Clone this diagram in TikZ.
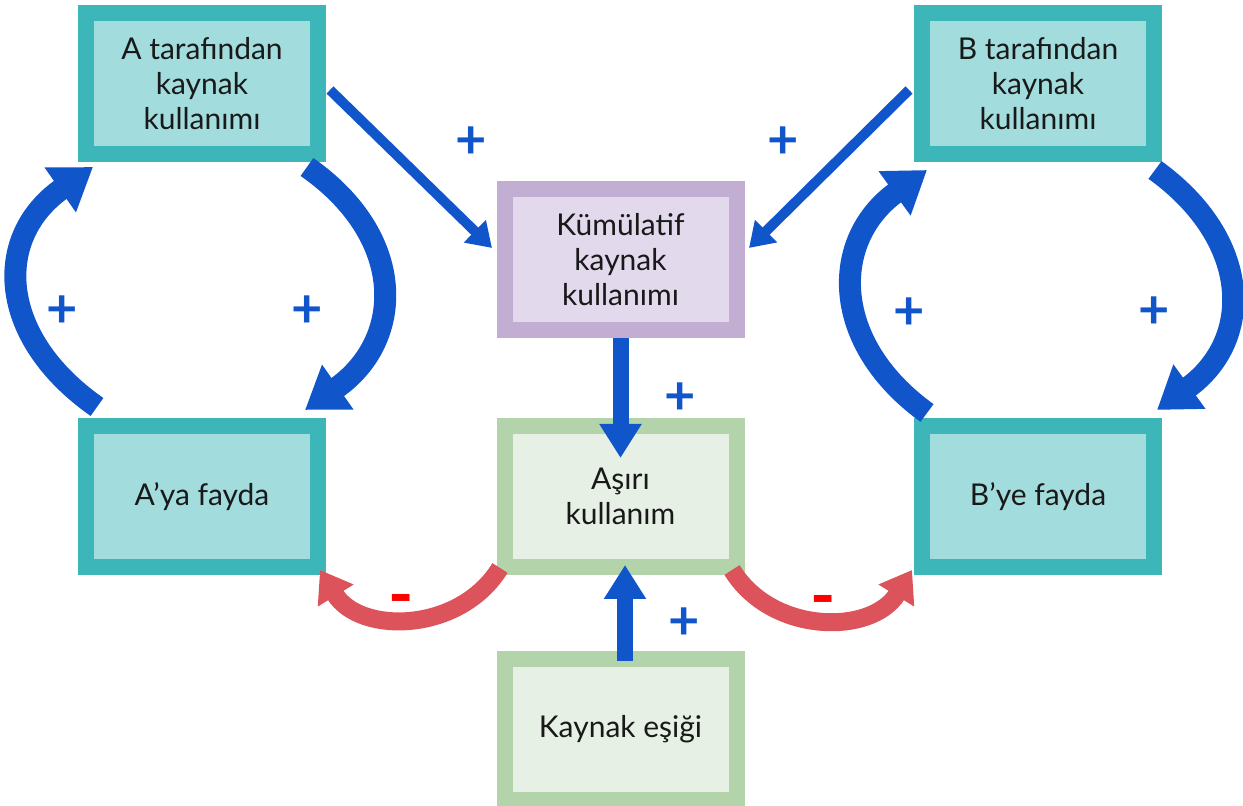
\documentclass[tikz,border=0pt]{standalone}
\usepackage{fontspec}
\setmainfont{Lato}
\usetikzlibrary{arrows.meta}

\definecolor{tealedge}{HTML}{3DB6B9}
\definecolor{tealfill}{HTML}{A3DCDD}
\definecolor{lilacedge}{HTML}{C3AED3}
\definecolor{lilacfill}{HTML}{E3D9EC}
\definecolor{sageedge}{HTML}{B3D3AB}
\definecolor{sagefill}{HTML}{E6F0E4}
\definecolor{arrowblue}{HTML}{1155CB}
\definecolor{arrowred}{HTML}{DC535B}
\definecolor{minusred}{HTML}{FF0000}

\begin{document}
\begin{tikzpicture}[x=0.5pt,y=0.5pt,>=latex]

	% Define node styles
	\tikzstyle{box node} = [rectangle, line width=8pt, minimum width=116pt, minimum height=70.5pt, align=center, text=black!90, font=\fontsize{15}{17.5}\selectfont]
	\tikzstyle{party node} = [box node, draw=tealedge, fill=tealfill]
	\tikzstyle{shared node} = [box node, draw=lilacedge, fill=lilacfill]
	\tikzstyle{stock node} = [box node, draw=sageedge, fill=sagefill]
	\tikzstyle{plus sign} = [text=arrowblue, font=\fontsize{27}{27}\selectfont\bfseries]
	\tikzstyle{minus sign} = [text=minusred, font=\fontsize{34}{34}\selectfont\bfseries]

	% Define arrow styles
	\tikzstyle{thin arrow} = [draw=arrowblue, line width=5pt, -{Triangle[length=12pt,width=15pt]}]
	\tikzstyle{feed arrow} = [draw=arrowblue, line width=8pt, -{Triangle[length=17pt,width=20pt]}]
	\tikzstyle{loop arrow} = [draw=arrowblue, line width=11pt, -{Triangle[length=20pt,width=26pt]}]
	\tikzstyle{neg arrow} = [draw=arrowred, line width=9pt, -{Triangle[length=15pt,width=20pt]}]

	\useasboundingbox (0,0) rectangle (1243,806);

	% Place nodes
	\node[party node] (useA) at (202,722) {A tarafından\\kaynak\\kullanımı};
	\node[party node] (useB) at (1038,722) {B tarafından\\kaynak\\kullanımı};
	\node[shared node] (cumul) at (620.5,546.5) {Kümülatif\\kaynak\\kullanımı};
	\node[party node] (benefitA) at (202,309.5) {A’ya fayda};
	\node[party node] (benefitB) at (1038,309.5) {B’ye fayda};
	\node[stock node] (overuse) at (620.5,309.5) {Aşırı\\kullanım};
	\node[stock node] (threshold) at (620.5,76.5) {Kaynak eşiği};

	% Draw edges
	\draw[thin arrow] ([shift={(4,-6)}]useA.east) -- ([shift={(-4.5,11.5)}]cumul.west);
	\draw[thin arrow] ([shift={(-5,-6)}]useB.west) -- ([shift={(4.5,11.5)}]cumul.east);
	\draw[feed arrow] (cumul.south) -- ([yshift=-20]overuse.north);
	\draw[feed arrow] ([shift={(4.5,-10)}]threshold.north) -- ([shift={(4.5,10)}]overuse.south);

	% feedback loops
	\draw[loop arrow] ([shift={(19,11)}]benefitA.north west) .. controls +(-100,70) and +(-100,-70) .. ([shift={(15,-4.5)}]useA.south west);
	\draw[loop arrow] ([shift={(-19,-4.5)}]useA.south east) .. controls +(100,-70) and +(100,70) .. ([shift={(-21,8)}]benefitA.north east);
	\draw[loop arrow] ([shift={(13,5)}]benefitB.north west) .. controls +(-97,70) and +(-97,-70) .. ([shift={(13,-7.5)}]useB.south west);
	\draw[loop arrow] ([shift={(-7,-7.5)}]useB.south east) .. controls +(97,-70) and +(97,70) .. ([shift={(-5,8)}]benefitB.north east);

	\draw[neg arrow] ([shift={(3.5,7)}]overuse.south west) .. controls +(-40,-65) and +(40,-65) .. ([shift={(-6,5)}]benefitA.south east);
	\draw[neg arrow] ([shift={(-12.5,5)}]overuse.south east) .. controls +(40,-65) and +(-40,-65) .. ([shift={(-2,5)}]benefitB.south west);

	% Signs
	\foreach \px/\py [count=\i] in {471/663, 783/663, 62/494, 307/494, 909/492, 1154/493, 680/407, 684/182}
	\node[plus sign] (plus\i) at (\px,\py) {+};
	\node[minus sign] (minusA) at (401,200) {-};
	\node[minus sign] (minusB) at (823,199) {-};

\end{tikzpicture}
\end{document}
